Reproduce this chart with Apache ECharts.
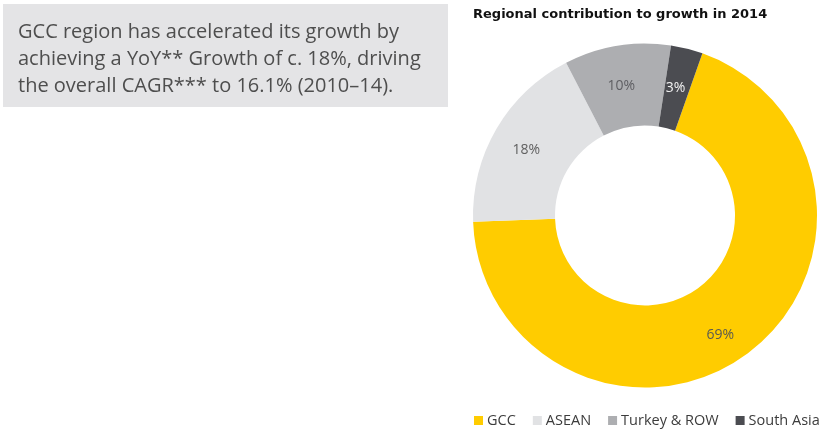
<!DOCTYPE html>
<html>
<head>
<meta charset="utf-8">
<script src="https://cdn.jsdelivr.net/npm/echarts@6/dist/echarts.min.js"></script>
<style>
  html, body { margin: 0; padding: 0; background: #ffffff; }
  #chart { width: 829px; height: 429px; }
</style>
</head>
<body>
<div id="chart"></div>
<script>
// Regional contribution to growth in 2014 (share of growth, %)
const regions = ['GCC', 'ASEAN', 'Turkey & ROW', 'South Asia'];
const shares = [69, 18, 10, 3];

const title = 'Regional contribution to growth in 2014';
const noteLines = [
  'GCC region has accelerated its growth by',
  'achieving a YoY** Growth of c. 18%, driving',
  'the overall CAGR*** to 16.1% (2010\u201314).'
];

// slice styling
const sliceColors = ['#FFCC00', '#E1E2E4', '#ADAEB1', '#4B4C51'];
const labelColors = ['#5a5a50', '#606060', '#5e5e62', '#f2f2f2'];
const labelNudge = [[-4, 12], [-3, 2], [-2, 3], [-2, 2]];

const chart = echarts.init(document.getElementById('chart'), null, { renderer: 'canvas' });

chart.setOption({
  animation: false,
  backgroundColor: '#ffffff',
  title: {
    text: title,
    left: 468,
    top: 3,
    textStyle: {
      fontFamily: 'DejaVu Sans',
      fontWeight: 'bold',
      fontSize: 13,
      color: '#111111'
    }
  },
  legend: {
    data: regions,
    left: 469,
    top: 408,
    icon: 'rect',
    itemWidth: 9,
    itemHeight: 9,
    itemGap: 17,
    selectedMode: false,
    textStyle: {
      fontFamily: 'Open Sans',
      fontSize: 14.5,
      color: '#3c3c3c',
      padding: [0, 0, 0, -1]
    }
  },
  graphic: [
    {
      type: 'rect',
      shape: { x: 3, y: 4, width: 445, height: 103 },
      style: { fill: '#E4E4E6' },
      silent: true
    },
    {
      type: 'text',
      left: 18,
      top: 19,
      style: {
        text: noteLines.join('\n'),
        fontFamily: 'Open Sans',
        fontSize: 20,
        lineHeight: 27,
        fill: '#4e4e4e'
      },
      silent: true
    }
  ],
  series: [
    {
      type: 'pie',
      center: [645, 215.5],
      radius: [90, 172],
      startAngle: 70.5,
      clockwise: true,
      avoidLabelOverlap: false,
      silent: true,
      itemStyle: { borderWidth: 0 },
      label: {
        show: true,
        position: 'inside',
        formatter: '{c}%',
        fontFamily: 'Open Sans',
        fontSize: 14
      },
      labelLine: { show: false },
      labelLayout: function (p) {
        const n = labelNudge[p.dataIndex];
        return { dx: n[0], dy: n[1] };
      },
      data: regions.map(function (name, i) {
        return {
          name: name,
          value: shares[i],
          itemStyle: { color: sliceColors[i] },
          label: { color: labelColors[i] }
        };
      })
    }
  ]
});
</script>
</body>
</html>
